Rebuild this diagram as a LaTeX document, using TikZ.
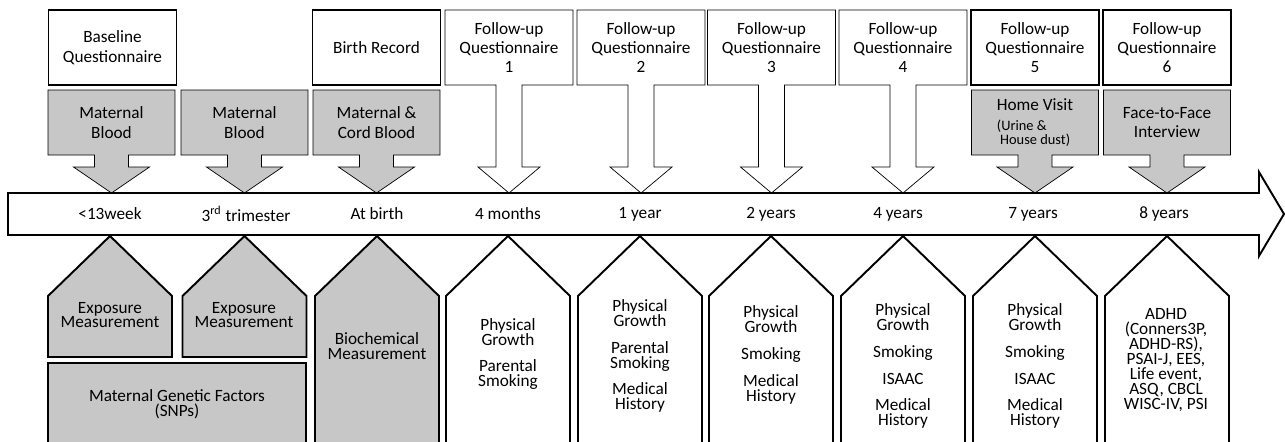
\documentclass[tikz,border=0pt]{standalone}
\usepackage{fontspec}
\setmainfont{Carlito}
\usepackage{tikz}
\usetikzlibrary{calc}
\usetikzlibrary{backgrounds}

% box with a down arrow onto the time line
\newcommand\dncallout[4]{%
  \begin{scope}[on background layer]
    \draw[#4] (#1.north west) -- (#1.north east) -- (#1.south east)
      -- ($(#1.south)+(#2,0)$) -- ($(#1.south |- tltop)+(#2,-26)$)
      -- ($(#1.south |- tltop)+(#3,-26)$) -- (#1.south |- tltop)
      -- ($(#1.south |- tltop)+(-#3,-26)$) -- ($(#1.south |- tltop)+(-#2,-26)$)
      -- ($(#1.south)+(-#2,0)$) -- (#1.south west) -- cycle;
  \end{scope}}
% pentagon hanging below the time line
\newcommand\house[3]{%
  \draw[#3] (#1 |- tlbot) -- ++(62,60) -- ++(0,#2) -- ++(-124,0) -- ++(0,-#2) -- cycle;}

\begin{document}
\begin{tikzpicture}
  [x=0.02cm, y=-0.02cm, line width=1.1pt,
   every node/.style={font=\fontsize{9.8}{11}\selectfont, align=center, inner sep=0pt, outer sep=0pt},
   low/.style={font={\fontsize{9.8}{8.5}\selectfont\lineskiplimit=-5pt}},
   fbox/.style={minimum width=2.56cm, minimum height=1.5cm},
   qbox/.style={fbox, draw, fill=white},
   sbox/.style={minimum width=2.54cm, minimum height=1.3cm},
   greyfill/.style={draw, fill=black!22},
   whitefill/.style={draw, fill=white}]
  \useasboundingbox (0,0) rectangle (1285,441);
  \clip (0,0) rectangle (1285,441);
  \coordinate (tltop) at (0,193);
  \coordinate (tlbot) at (0,236);

  % time line
  \draw[whitefill] (8,193) -- (1259,193) -- (1259,172) -- (1284,214) -- (1259,256) -- (1259,235) -- (8,235) -- cycle;
  \node (t1) at (110,214) {<13week};
  \node (t2) at (246,214) {3\textsuperscript{rd} trimester};
  \node (t3) at (377,214) {At birth};
  \node (t4) at (508,214) {4 months};
  \node (t5) at (640,214) {1 year};
  \node (t6) at (771,214) {2 years};
  \node (t7) at (898,214) {4 years};
  \node (t8) at (1033,214) {7 years};
  \node (t9) at (1164,214) {8 years};

  % questionnaires and samples
  \node[qbox] (bq) at (112.5,47.5) {Baseline\\Questionnaire};
  \node[qbox] (br) at (376.5,47.5) {Birth Record};
  \node[fbox] (fq1) at (509,47.5) {Follow-up\\Questionnaire\\1};
  \node[fbox] (fq2) at (641,47.5) {Follow-up\\Questionnaire\\2};
  \node[fbox] (fq3) at (771.5,47.5) {Follow-up\\Questionnaire\\3};
  \node[fbox] (fq4) at (903,47.5) {Follow-up\\Questionnaire\\4};
  \node[qbox] (fq5) at (1035,47.5) {Follow-up\\Questionnaire\\5};
  \node[qbox] (fq6) at (1167,47.5) {Follow-up\\Questionnaire\\6};
  \node[sbox] (mb1) at (111.5,122.5) {Maternal\\Blood};
  \node[sbox] (mb2) at (244.5,122.5) {Maternal\\Blood};
  \node[sbox] (cb) at (376.5,122.5) {Maternal \&\\Cord Blood};
  \node[sbox, align=left] (hv) at (1035,122.5) {Home Visit\\{\fontsize{8.2}{8}\selectfont(Urine \&}\\[-3pt]{\fontsize{8.2}{8}\selectfont\ House dust)}};
  \node[sbox] (fi) at (1167,122.5) {Face-to-Face\\Interview};
  \dncallout{fq1}{13}{31}{whitefill}
  \dncallout{fq2}{13}{31}{whitefill}
  \dncallout{fq3}{13}{31}{whitefill}
  \dncallout{fq4}{13}{31}{whitefill}
  \dncallout{mb1}{17}{38}{greyfill}
  \dncallout{mb2}{17}{38}{greyfill}
  \dncallout{cb}{17}{38}{greyfill}
  \dncallout{hv}{17}{38}{greyfill}
  \dncallout{fi}{17}{38}{greyfill}

  % measurements
  \house{t1}{61}{greyfill}
  \house{mb2}{61}{greyfill}
  \house{t3}{220}{greyfill}
  \house{t4}{220}{whitefill}
  \house{t5}{220}{whitefill}
  \house{t6}{220}{whitefill}
  \house{fq4}{220}{whitefill}
  \house{hv}{220}{whitefill}
  \house{fq6}{220}{whitefill}
  \draw[greyfill] (48,363) rectangle (306,470);
  \node[low] (ex1) at (110,315) {Exposure\\Measurement};
  \node[low] (ex2) at (244,315) {Exposure\\Measurement};
  \node[low] (bio) at (377,346) {Biochemical\\Measurement};
  \node[low] (snp) at (177,404) {Maternal Genetic Factors\\(SNPs)};
  \node[low] (m4) at (508,354) {Physical\\Growth\\[6.8pt]Parental\\Smoking};
  \node[low] (m5) at (640,356) {Physical\\Growth\\[6.8pt]Parental\\Smoking\\[6.8pt]Medical\\History};
  \node[low] (m6) at (771,355) {Physical\\Growth\\[6.8pt]Smoking\\[6.8pt]Medical\\History};
  \node[low] (m7) at (903,366) {Physical\\Growth\\[6.8pt]Smoking\\[6.8pt]ISAAC\\[6.8pt]Medical\\History};
  \node[low] (m8) at (1035,366) {Physical\\Growth\\[6.8pt]Smoking\\[6.8pt]ISAAC\\[6.8pt]Medical\\History};
  \node[low] (m9) at (1166,360) {ADHD\\(Conners3P,\\ADHD-RS),\\PSAI-J, EES,\\Life event,\\ASQ, CBCL\\WISC-IV, PSI};
\end{tikzpicture}
\end{document}
